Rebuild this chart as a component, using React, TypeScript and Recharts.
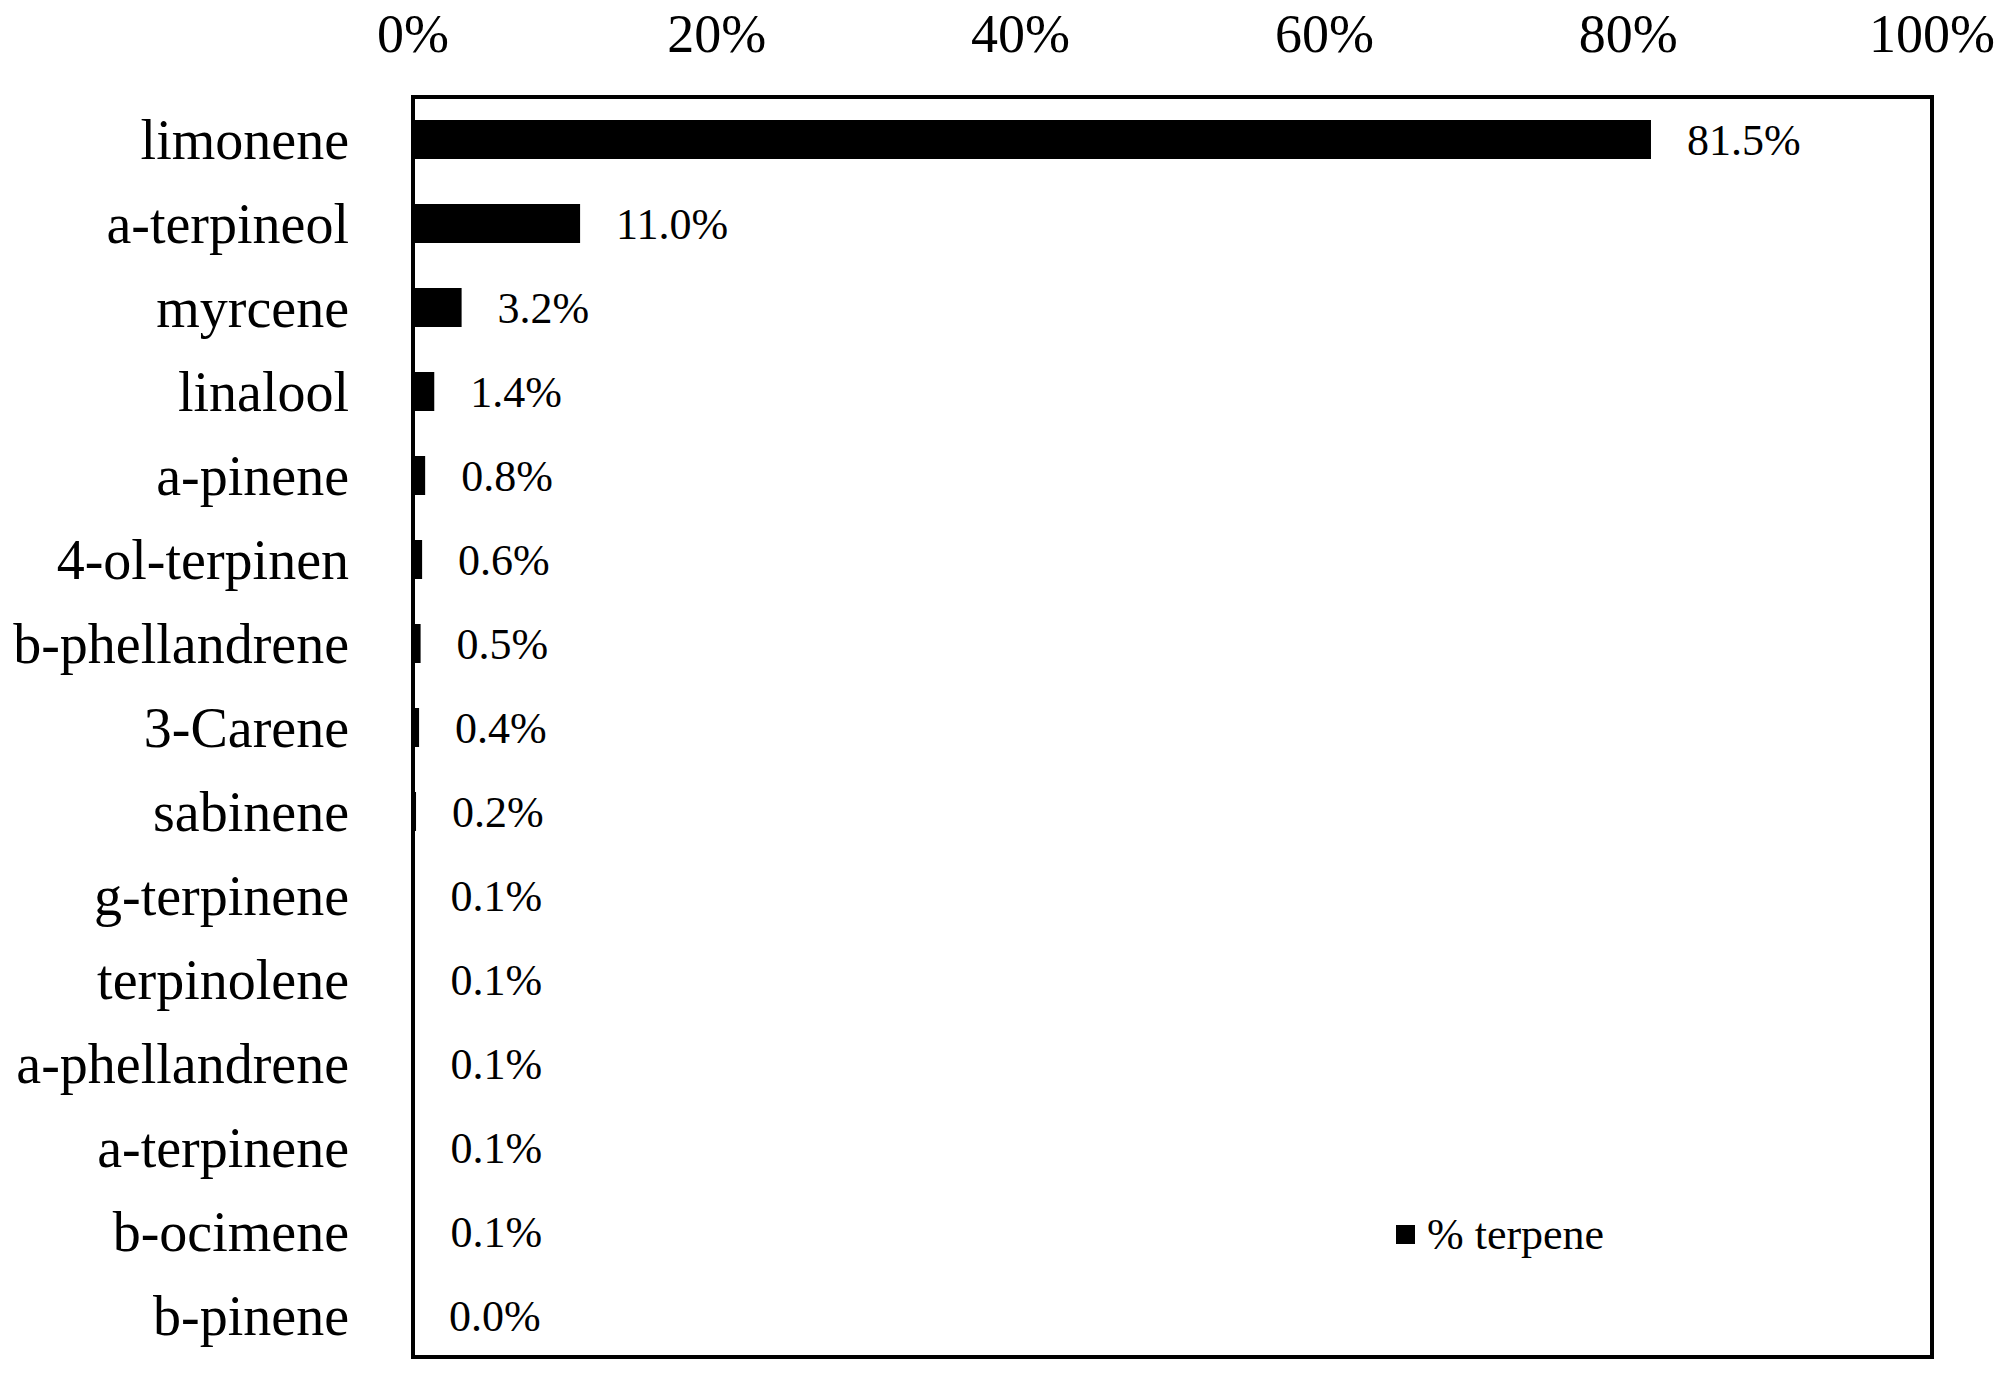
import React from 'react'
import { BarChart, Bar, XAxis, YAxis, LabelList, Legend } from 'recharts'

const FONT = '"Liberation Serif", "Times New Roman", serif'

const compounds = [
  'limonene',
  'a-terpineol',
  'myrcene',
  'linalool',
  'a-pinene',
  '4-ol-terpinen',
  'b-phellandrene',
  '3-Carene',
  'sabinene',
  'g-terpinene',
  'terpinolene',
  'a-phellandrene',
  'a-terpinene',
  'b-ocimene',
  'b-pinene',
]

const terpenePct = [81.5, 11.0, 3.2, 1.4, 0.8, 0.6, 0.5, 0.4, 0.2, 0.1, 0.1, 0.1, 0.1, 0.1, 0.0]

const xTicks = [0, 20, 40, 60, 80, 100]

const data = compounds.map((name, i) => ({
  name,
  value: terpenePct[i],
  label: `${terpenePct[i].toFixed(1)}%`,
}))

const frame = { stroke: '#000', strokeWidth: 4, strokeLinecap: 'square' as const }

function LegendBox() {
  return (
    <div style={{ display: 'flex', alignItems: 'center', fontFamily: FONT, fontSize: 44, color: '#000' }}>
      <span style={{ width: 19, height: 19, background: '#000', display: 'inline-block', marginRight: 12 }} />
      <span>% terpene</span>
    </div>
  )
}

// value label just right of the bar end
function BarValue(props: any) {
  const { x, y, width, height, value } = props
  return (
    <text
      x={Number(x) + Number(width) + 36}
      y={Number(y) + Number(height) / 2}
      dy="0.35em"
      fill="#000"
      fontSize={44}
      fontFamily={FONT}
    >
      {value}
    </text>
  )
}

export default function App() {
  return (
    <div style={{ position: 'absolute', left: 0, top: 0, width: 2010, height: 1378, background: '#fff' }}>
      <BarChart
        width={2010}
        height={1378}
        data={data}
        layout="vertical"
        margin={{ top: 0, right: 0, bottom: 0, left: 0 }}
      >
        <XAxis
          type="number"
          orientation="top"
          domain={[0, 100]}
          ticks={xTicks}
          tickFormatter={(v: number) => `${v}%`}
          height={97}
          axisLine={frame}
          tickLine={false}
          tickSize={0}
          tickMargin={45}
          tick={{ fill: '#000', fontSize: 54, fontFamily: FONT }}
        />
        <XAxis xAxisId="b" type="number" orientation="bottom" domain={[0, 100]} height={21} tick={false} tickLine={false} axisLine={frame} />
        <YAxis
          type="category"
          dataKey="name"
          width={413}
          axisLine={frame}
          tickLine={false}
          tickSize={0}
          tickMargin={64}
          interval={0}
          tick={{ fill: '#000', fontSize: 56, fontFamily: FONT }}
        />
        <YAxis yAxisId="r" type="category" dataKey="name" orientation="right" width={78} tick={false} tickLine={false} axisLine={frame} />
        <Legend
          layout="horizontal"
          verticalAlign="middle"
          align="center"
          wrapperStyle={{ position: 'absolute', left: 1396, top: 1209, width: 260 }}
          content={() => <LegendBox />}
        />
        <Bar
          dataKey="value"
          name="% terpene"
          fill="#000"
          barSize={39}
          minPointSize={(v: number) => (v === 0 ? 0.01 : 0)}
          isAnimationActive={false}
        >
          <LabelList dataKey="label" content={BarValue} />
        </Bar>
      </BarChart>
    </div>
  )
}
